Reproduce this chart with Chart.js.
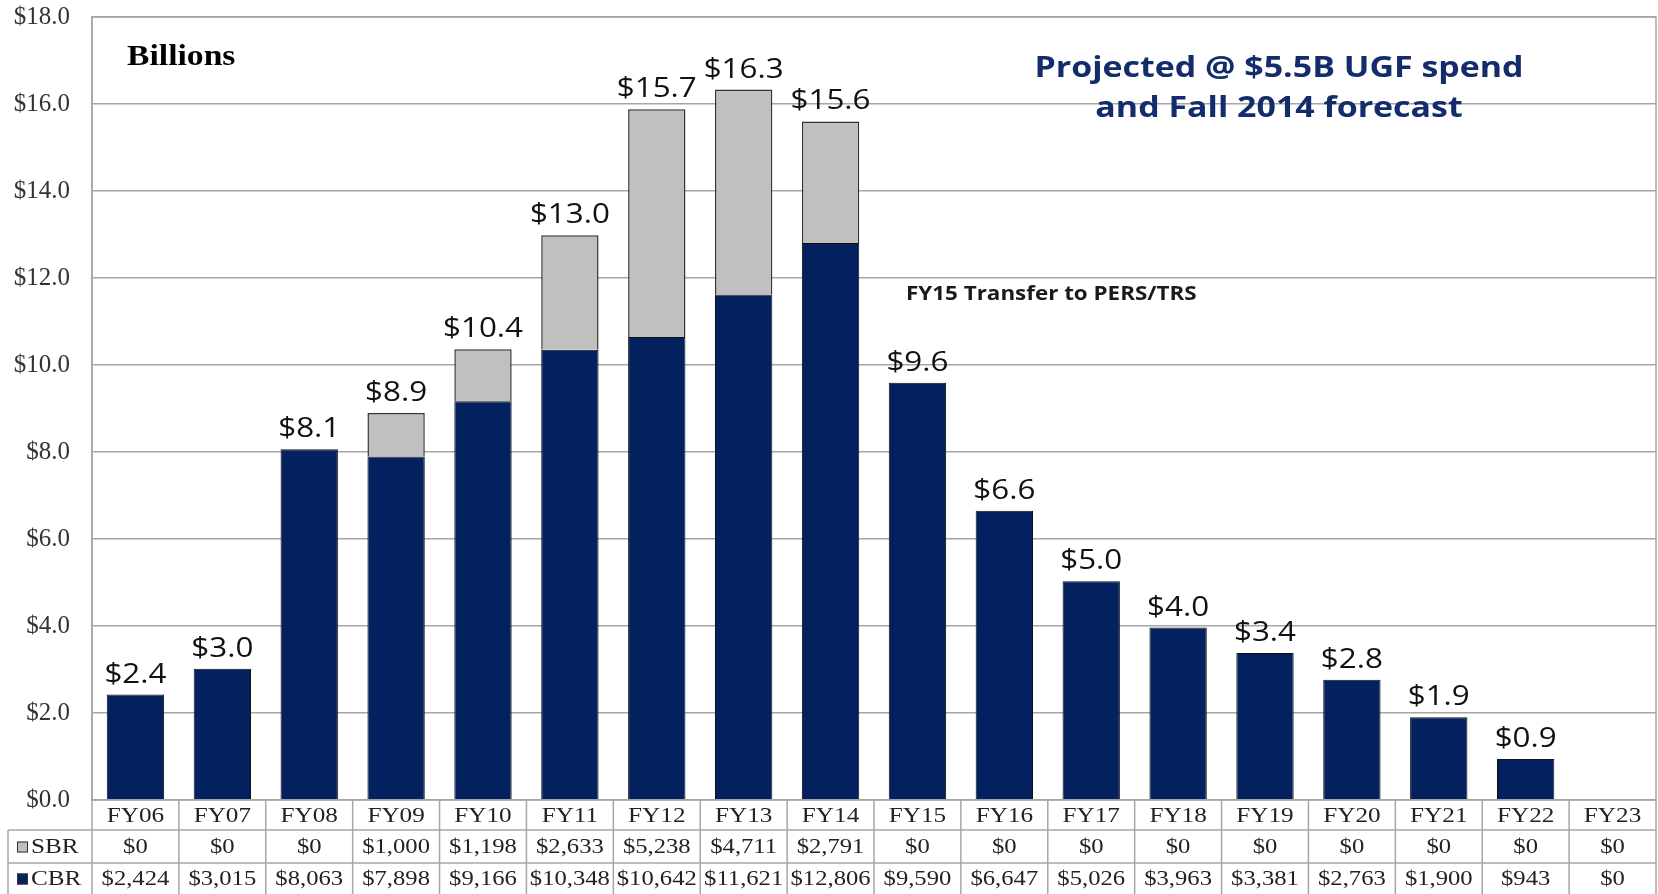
<!DOCTYPE html>
<html>
<head>
<meta charset="utf-8">
<script src="https://cdn.jsdelivr.net/npm/chart.js@4/dist/chart.umd.min.js"></script>
<style>
  html, body { margin: 0; padding: 0; background: #fff; }
  #wrap { width: 1658px; height: 894px; }
</style>
</head>
<body>
<div id="wrap"><canvas id="chart" width="1658" height="894"></canvas></div>
<script>
// ── DATA (millions) ───────────────────────────────────────────────────────────
const categories  = ['FY06','FY07','FY08','FY09','FY10','FY11','FY12','FY13','FY14',
                     'FY15','FY16','FY17','FY18','FY19','FY20','FY21','FY22','FY23'];
const sbrValues   = [0, 0, 0, 1000, 1198, 2633, 5238, 4711, 2791, 0, 0, 0, 0, 0, 0, 0, 0, 0];
const cbrValues   = [2424, 3015, 8063, 7898, 9166, 10348, 10642, 11621, 12806,
                     9590, 6647, 5026, 3963, 3381, 2763, 1900, 943, 0];
const totalLabels = ['$2.4','$3.0','$8.1','$8.9','$10.4','$13.0','$15.7','$16.3','$15.6',
                     '$9.6','$6.6','$5.0','$4.0','$3.4','$2.8','$1.9','$0.9',''];
const yTickValues = [0, 2, 4, 6, 8, 10, 12, 14, 16, 18];

const NAVY  = '#03215e';
const GREY  = '#c0c0c0';
const LINE  = '#a6a6a6';
const SX    = 1.2;   // reference text is stretched horizontally

const money = v => '$' + v.toLocaleString('en-US');

// ── HELPERS ───────────────────────────────────────────────────────────────────
function txt(ctx, s, x, y, font, color, align, sx) {
  ctx.save();
  ctx.font = font;
  ctx.fillStyle = color;
  ctx.textAlign = align || 'center';
  ctx.textBaseline = 'middle';
  ctx.translate(x, y);
  ctx.scale(sx || SX, 1);
  ctx.fillText(s, 0, 0);
  ctx.restore();
}
function hline(ctx, x1, x2, y) { ctx.beginPath(); ctx.moveTo(x1, y); ctx.lineTo(x2, y); ctx.stroke(); }
function vline(ctx, x, y1, y2) { ctx.beginPath(); ctx.moveTo(x, y1); ctx.lineTo(x, y2); ctx.stroke(); }

// ── PLUGIN: totals, notes, data table ─────────────────────────────────────────
const extras = {
  id: 'extras',
  afterDatasetsDraw(chart) {
    const { ctx, chartArea: a, scales: { x, y } } = chart;

    // plot frame
    ctx.save();
    ctx.strokeStyle = LINE; ctx.lineWidth = 1.5;
    ctx.strokeRect(a.left, a.top, a.right - a.left, a.bottom - a.top);
    ctx.restore();

    // total labels above stacks
    categories.forEach((c, i) => {
      if (!totalLabels[i]) return;
      const tot = (sbrValues[i] + cbrValues[i]) / 1000;
      txt(ctx, totalLabels[i], x.getPixelForValue(i), y.getPixelForValue(tot) - 20,
          '28px "Open Sans"', '#111', 'center', 1.12);
    });

    // notes
    txt(ctx, 'Billions', 127, 58, 'bold 29px "Liberation Serif"', '#000', 'left', 1.16);
    txt(ctx, 'Projected @ $5.5B UGF spend', 1279, 69, 'bold 29px "Open Sans"', '#132c6b', 'center', 1.17);
    txt(ctx, 'and Fall 2014 forecast',      1279, 109, 'bold 29px "Open Sans"', '#132c6b', 'center', 1.17);
    txt(ctx, 'FY15 Transfer to PERS/TRS', 906, 294, 'bold 20px "Open Sans"', '#1a1a1a', 'left', 1.12);

    // data table
    const colW = x.getPixelForValue(1) - x.getPixelForValue(0);
    const top = a.bottom, r1 = top + 30, r2 = r1 + 33, bot = chart.height;
    const legL = 8;

    ctx.save();
    ctx.strokeStyle = LINE; ctx.lineWidth = 1.5;
    hline(ctx, legL, a.right, r1);
    hline(ctx, legL, a.right, r2);
    vline(ctx, legL, r1, bot);
    vline(ctx, a.left, top, bot);
    categories.forEach((c, i) => vline(ctx, x.getPixelForValue(i) + colW / 2, top, bot));
    ctx.restore();

    categories.forEach((c, i) => {
      const cx = x.getPixelForValue(i);
      txt(ctx, c, cx, (top + r1) / 2 + 1, '21px "Liberation Serif"', '#222');
      txt(ctx, money(sbrValues[i]), cx, (r1 + r2) / 2 + 1, '22px "Liberation Serif"', '#222', 'center', 1.12);
      txt(ctx, money(cbrValues[i]), cx, (r2 + bot) / 2 + 1, '22px "Liberation Serif"', '#222', 'center', 1.12);
    });

    // legend keys
    [[GREY, 'SBR', (r1 + r2) / 2], [NAVY, 'CBR', (r2 + bot) / 2]].forEach(([col, name, cy]) => {
      ctx.save();
      ctx.fillStyle = col; ctx.strokeStyle = '#333'; ctx.lineWidth = 1;
      ctx.fillRect(17, cy - 5, 11, 11);
      ctx.strokeRect(17.5, cy - 4.5, 10, 10);
      ctx.restore();
      txt(ctx, name, 31, cy + 1, '21px "Liberation Serif"', '#222', 'left');
    });
  }
};

// ── CHART ─────────────────────────────────────────────────────────────────────
new Chart(document.getElementById('chart').getContext('2d'), {
  type: 'bar',
  data: {
    labels: categories,
    datasets: [
      { label: 'CBR', data: cbrValues.map(v => v / 1000), backgroundColor: NAVY,
        borderColor: '#111', borderWidth: 1, categoryPercentage: 1, barPercentage: 0.66 },
      { label: 'SBR', data: sbrValues.map(v => v / 1000), backgroundColor: GREY,
        borderColor: '#333', borderWidth: 1.5, categoryPercentage: 1, barPercentage: 0.66 }
    ]
  },
  options: {
    responsive: false,
    animation: false,
    layout: { padding: { left: 0, top: 17, right: 2, bottom: 94 } },
    plugins: { legend: { display: false }, tooltip: { enabled: false } },
    scales: {
      x: { stacked: true, display: false },
      y: {
        stacked: true, min: 0, max: 18,
        afterFit: s => { s.width = 92; },
        afterBuildTicks: s => { s.ticks = yTickValues.map(v => ({ value: v })); },
        ticks: {
          padding: 0, color: '#333',
          font: { family: '"Liberation Serif"', size: 25 },
          callback: v => '$' + Number(v).toFixed(1)
        },
        grid: { color: LINE, lineWidth: 1.5, drawTicks: true, tickLength: 22, tickColor: 'rgba(0,0,0,0)' },
        border: { display: true, color: LINE, width: 1.5 }
      }
    }
  },
  plugins: [extras]
});
</script>
</body>
</html>
